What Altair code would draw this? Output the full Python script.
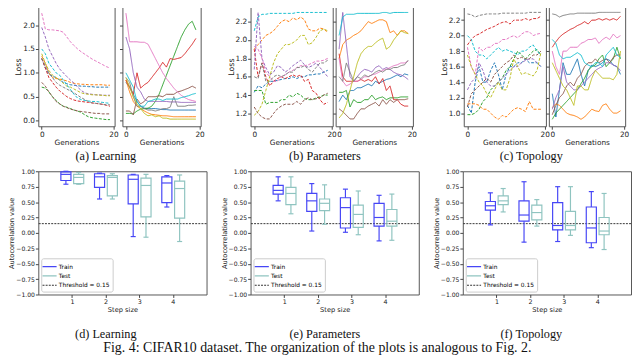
import altair as alt
import pandas as pd

SERIES = ["blue", "orange", "green", "red", "purple", "brown", "pink", "gray", "olive", "cyan"]
TAB10 = ["#1f77b4", "#ff7f0e", "#2ca02c", "#d62728", "#9467bd",
         "#8c564b", "#e377c2", "#7f7f7f", "#bcbd22", "#17becf"]
GENS = list(range(20))

# ---------- (a) Learning ----------
A_L = {
    "blue":   [1.30,1.10,0.97,0.93,0.90,0.85,0.80,0.77,0.75,0.74,0.73,0.72,0.72,0.71,0.71,0.70,0.70,0.70,0.70,0.70],
    "orange": [1.35,1.20,1.00,0.90,0.88,0.87,0.85,0.83,0.80,0.78,0.77,0.76,0.76,0.75,0.75,0.75,0.75,0.75,0.74,0.74],
    "green":  [0.70,0.68,0.60,0.50,0.42,0.35,0.30,0.28,0.25,0.22,0.20,0.17,0.12,0.08,0.06,0.05,0.04,0.03,0.02,0.02],
    "red":    [1.30,1.10,0.90,0.80,0.70,0.62,0.56,0.50,0.46,0.43,0.41,0.40,0.39,0.38,0.37,0.36,0.35,0.34,0.32,0.30],
    "purple": [1.95,1.75,1.50,1.35,1.20,1.08,1.00,0.92,0.85,0.78,0.70,0.63,0.58,0.56,0.55,0.54,0.54,0.53,0.53,0.53],
    "brown":  [0.80,0.72,0.60,0.50,0.40,0.35,0.30,0.27,0.24,0.22,0.20,0.19,0.18,0.17,0.16,0.15,0.15,0.14,0.14,0.14],
    "pink":   [2.25,1.92,1.90,1.90,1.89,1.88,1.85,1.75,1.65,1.57,1.50,1.44,1.39,1.34,1.29,1.25,1.21,1.17,1.13,1.10],
    "gray":   [1.30,1.15,1.00,0.90,0.80,0.74,0.70,0.66,0.62,0.58,0.53,0.48,0.44,0.40,0.37,0.36,0.35,0.34,0.33,0.33],
    "olive":  [1.40,1.20,1.05,0.95,0.90,0.85,0.78,0.72,0.70,0.66,0.62,0.58,0.56,0.55,0.54,0.54,0.53,0.53,0.52,0.52],
    "cyan":   [1.50,1.40,1.20,1.10,1.00,0.95,0.85,0.75,0.65,0.55,0.47,0.44,0.42,0.41,0.40,0.40,0.39,0.38,0.37,0.36],
}
A_R = {
    "blue":   [0.80,0.70,0.55,0.40,0.30,0.26,0.25,0.25,0.25,0.24,0.23,0.23,0.22,0.22,0.22,0.22,0.22,0.22,0.22,0.22],
    "orange": [0.85,0.60,0.40,0.30,0.25,0.20,0.16,0.13,0.12,0.11,0.10,0.10,0.09,0.08,0.08,0.08,0.08,0.08,0.08,0.08],
    "green":  [0.15,0.15,0.14,0.20,0.24,0.25,0.26,0.30,0.40,0.55,0.75,0.95,1.15,1.35,1.55,1.75,1.90,2.02,2.08,1.90],
    "red":    [0.85,0.70,0.55,1.00,0.68,0.75,0.80,0.90,1.00,1.10,1.22,1.12,1.30,1.28,1.30,1.32,1.40,1.50,1.60,1.72],
    "purple": [1.75,1.50,1.00,0.70,0.60,0.45,0.40,0.40,0.40,0.40,0.40,0.40,0.39,0.39,0.39,0.38,0.38,0.38,0.38,0.38],
    "brown":  [0.20,0.20,0.12,0.45,0.35,0.40,0.50,0.50,0.50,0.52,0.50,0.55,0.55,0.55,0.60,0.62,0.65,0.68,0.72,0.68],
    "pink":   [2.25,1.65,1.65,1.65,1.64,1.64,1.60,1.45,1.30,1.15,1.00,0.88,0.78,0.68,0.60,0.53,0.48,0.44,0.42,0.40],
    "gray":   [0.90,0.80,0.50,0.30,0.30,0.25,0.22,0.22,0.20,0.22,0.25,0.25,0.28,0.50,0.30,0.30,0.30,0.32,0.32,0.33],
    "olive":  [0.90,0.70,0.50,0.35,0.25,0.15,0.10,0.12,0.08,0.10,0.05,0.05,0.03,0.03,0.03,0.03,0.03,0.03,0.03,0.03],
    "cyan":   [1.00,0.85,0.70,0.40,0.30,0.30,0.40,0.42,0.45,0.45,0.42,0.45,0.45,0.45,0.45,0.48,0.50,0.52,0.55,0.57],
}

# ---------- (b) Parameters ----------
B_L = {
    "cyan":   [2.10,2.25,2.28,2.28,2.29,2.29,2.29,2.29,2.29,2.29,2.29,2.30,2.30,2.30,2.30,2.30,2.30,2.30,2.30,2.30],
    "orange": [1.90,1.95,2.00,2.05,2.07,2.10,2.15,2.20,2.22,2.20,2.24,2.22,2.25,2.22,2.12,2.10,2.10,2.13,2.12,2.08],
    "olive":  [1.18,1.22,1.30,1.45,1.60,1.75,1.85,1.90,1.95,1.95,1.97,2.00,2.05,2.05,1.95,1.97,2.03,2.10,2.12,2.10],
    "purple": [1.68,2.30,1.80,1.70,1.62,1.65,1.72,1.70,1.65,1.68,1.72,1.75,1.78,1.73,1.70,1.72,1.75,1.70,1.65,1.60],
    "pink":   [1.93,1.90,1.80,1.65,1.60,1.55,1.55,1.60,1.62,1.65,1.67,1.70,1.72,1.72,1.73,1.75,1.77,1.77,1.78,1.80],
    "gray":   [1.60,1.58,1.75,1.55,1.55,1.60,1.62,1.60,1.62,1.65,1.65,1.70,1.70,1.72,1.68,1.65,1.70,1.75,1.75,1.78],
    "blue":   [1.43,1.50,1.48,1.52,1.55,1.55,1.56,1.57,1.58,1.58,1.60,1.58,1.60,1.60,1.62,1.62,1.63,1.63,1.65,1.67],
    "red":    [1.90,1.60,1.75,1.60,1.50,1.55,1.58,1.60,1.58,1.60,1.62,1.60,1.62,1.55,1.57,1.45,1.42,1.35,1.30,1.32],
    "green":  [1.45,1.45,1.45,1.30,1.32,1.32,1.32,1.35,1.35,1.40,1.38,1.42,1.40,1.36,1.35,1.35,1.37,1.38,1.40,1.40],
    "brown":  [1.27,1.20,1.16,1.14,1.14,1.20,1.25,1.28,1.30,1.30,1.30,1.33,1.30,1.35,1.37,1.35,1.36,1.37,1.40,1.42],
}
B_R = {
    "cyan":   [2.05,2.25,2.28,2.28,2.28,2.29,2.29,2.29,2.29,2.29,2.29,2.29,2.30,2.30,2.29,2.30,2.30,2.30,2.30,2.30],
    "orange": [1.80,1.95,2.00,2.02,2.05,2.07,2.10,2.15,2.20,2.18,2.20,2.22,2.22,2.20,2.08,2.10,2.05,2.10,2.10,2.07],
    "olive":  [1.15,1.20,1.30,1.45,1.60,1.75,1.85,1.90,1.93,1.93,1.97,2.00,2.02,1.90,1.93,2.00,2.05,2.10,2.08,2.07],
    "purple": [1.90,2.30,1.95,1.60,1.55,1.60,1.65,1.68,1.67,1.65,1.70,1.72,1.68,1.70,1.68,1.65,1.63,1.62,1.60,1.57],
    "pink":   [1.80,1.55,1.50,1.52,1.55,1.55,1.57,1.60,1.60,1.62,1.63,1.65,1.67,1.68,1.70,1.72,1.73,1.75,1.75,1.77],
    "gray":   [1.60,1.55,1.75,1.65,1.55,1.60,1.58,1.62,1.60,1.62,1.65,1.67,1.65,1.68,1.68,1.70,1.70,1.72,1.73,1.78],
    "blue":   [1.33,1.40,1.35,1.45,1.45,1.48,1.48,1.50,1.52,1.50,1.55,1.53,1.55,1.57,1.58,1.60,1.62,1.60,1.63,1.62],
    "red":    [1.85,1.60,1.55,1.55,1.55,1.55,1.57,1.55,1.57,1.55,1.60,1.52,1.58,1.45,1.50,1.35,1.35,1.30,1.28,1.28],
    "green":  [1.43,1.43,1.45,1.27,1.35,1.32,1.32,1.35,1.35,1.40,1.35,1.37,1.38,1.35,1.37,1.37,1.37,1.38,1.38,1.38],
    "brown":  [1.25,1.22,1.18,1.14,1.14,1.20,1.25,1.25,1.28,1.30,1.32,1.28,1.35,1.30,1.35,1.32,1.35,1.35,1.35,1.36],
}

# ---------- (c) Topology ----------
C_L = {
    "gray":   [2.28,2.27,2.24,2.26,2.27,2.28,2.28,2.28,2.28,2.29,2.29,2.29,2.29,2.29,2.29,2.29,2.30,2.30,2.30,2.30],
    "red":    [1.88,1.95,2.00,2.02,2.05,2.08,2.10,2.12,2.15,2.17,2.18,2.15,2.20,2.20,2.20,2.22,2.20,2.22,2.22,2.25],
    "pink":   [1.85,1.60,1.50,1.85,1.80,1.85,1.85,1.90,1.90,1.95,1.95,1.98,2.00,1.97,2.02,2.05,2.05,2.00,2.02,2.03],
    "cyan":   [2.00,1.95,1.80,1.75,1.75,1.70,1.75,1.80,1.85,1.80,1.82,1.80,1.78,1.75,1.80,1.80,1.85,1.88,1.80,1.75],
    "olive":  [1.75,1.60,1.50,1.40,1.35,1.25,1.20,1.30,1.40,1.30,1.30,1.45,1.70,1.60,1.50,1.52,1.50,1.48,1.55,1.78],
    "blue":   [1.10,1.00,1.40,1.60,1.40,1.40,1.55,1.65,1.50,1.30,1.50,1.60,1.60,1.65,1.65,1.70,1.65,1.65,1.65,1.60],
    "purple": [1.30,1.40,1.45,1.65,1.55,1.40,1.35,1.35,1.40,1.45,1.50,1.55,1.60,1.60,1.65,1.68,1.70,1.70,1.65,1.60],
    "brown":  [1.08,1.25,1.30,1.35,1.40,1.45,1.40,1.50,1.55,1.60,1.65,1.68,1.75,1.70,1.72,1.70,1.70,1.75,1.75,1.80],
    "green":  [0.98,0.98,1.00,1.05,1.15,1.20,1.30,1.35,1.40,1.45,1.55,1.60,1.70,1.80,1.75,1.70,1.75,1.80,1.82,1.75],
    "orange": [1.12,1.12,1.12,1.10,1.05,1.05,1.00,0.95,0.92,0.97,0.95,1.00,1.05,1.07,1.05,1.02,1.15,1.05,1.05,1.05],
}
C_R = {
    "gray":   [2.28,2.27,2.24,2.26,2.27,2.28,2.28,2.29,2.29,2.29,2.29,2.29,2.29,2.30,2.30,2.30,2.30,2.30,2.30,2.30],
    "red":    [1.85,1.92,1.98,2.02,2.05,2.08,2.10,2.13,2.15,2.18,2.15,2.20,2.20,2.22,2.20,2.22,2.20,2.22,2.20,2.25],
    "pink":   [1.80,1.60,1.50,1.80,1.80,1.85,1.85,1.85,1.90,1.92,1.95,1.95,1.97,1.90,1.95,1.98,1.95,2.02,1.97,2.00],
    "cyan":   [1.95,1.90,1.75,1.70,1.72,1.72,1.75,1.78,1.75,1.65,1.62,1.60,1.65,1.65,1.60,1.75,1.80,1.85,1.75,1.72],
    "olive":  [1.65,1.55,1.45,1.35,1.30,1.20,1.10,1.35,1.35,1.30,1.30,1.45,1.55,1.50,1.45,1.45,1.45,1.43,1.50,1.80],
    "blue":   [1.25,0.95,1.30,1.65,1.50,1.50,1.60,1.70,1.50,1.35,1.55,1.62,1.60,1.62,1.65,1.70,1.68,1.62,1.60,1.50],
    "purple": [1.05,1.20,1.30,1.60,1.40,1.35,1.30,1.30,1.35,1.40,1.45,1.50,1.55,1.58,1.60,1.65,1.65,1.62,1.60,1.55],
    "brown":  [0.98,1.10,1.20,1.25,1.35,1.40,1.35,1.45,1.50,1.60,1.65,1.65,1.70,1.65,1.68,1.70,1.65,1.72,1.75,1.75],
    "green":  [0.92,1.00,1.05,1.10,1.15,1.20,1.25,1.30,1.38,1.45,1.55,1.60,1.62,1.70,1.75,1.60,1.65,1.70,1.85,1.70],
    "orange": [1.07,1.12,1.10,1.05,1.00,0.98,0.97,0.95,0.92,0.95,1.00,1.05,1.03,1.02,1.10,1.12,1.05,1.00,1.00,1.03],
}

# ---------- box plots: [min, q1, median, q3, max] for step 1..4 ----------
STEPS = [1, 2, 3, 4]
D_TRAIN = [[0.79,0.85,0.95,0.99,1.00],[0.55,0.74,0.91,0.96,0.97],[-0.06,0.47,0.87,0.94,0.95],[0.42,0.49,0.81,0.91,0.93]]
D_TEST  = [[0.79,0.80,0.90,0.95,0.98],[0.55,0.60,0.90,0.93,0.96],[-0.07,0.26,0.77,0.89,0.95],[-0.14,0.24,0.72,0.84,0.94]]
E_TRAIN = [[0.52,0.63,0.69,0.77,0.91],[0.03,0.35,0.52,0.64,0.80],[0.01,0.08,0.41,0.57,0.71],[-0.13,0.11,0.25,0.48,0.61]]
E_TEST  = [[0.31,0.46,0.64,0.74,0.91],[0.14,0.36,0.48,0.55,0.78],[-0.03,0.09,0.30,0.45,0.68],[-0.12,0.11,0.19,0.38,0.63]]
F_TRAIN = [[0.13,0.37,0.44,0.51,0.65],[-0.15,0.19,0.29,0.52,0.83],[-0.14,0.05,0.12,0.49,0.75],[-0.24,-0.16,0.08,0.42,0.67]]
F_TEST  = [[0.34,0.46,0.52,0.60,0.72],[0.11,0.21,0.33,0.45,0.54],[-0.04,0.05,0.12,0.35,0.75],[-0.27,-0.03,0.03,0.25,0.64]]
THRESHOLD = 0.15
Y_TICKS_BOX = [-1, -0.75, -0.5, -0.25, 0, 0.25, 0.5, 0.75, 1]

LEG_NAMES = ["Train", "Test", "Threshold = 0.15"]
LEG_COLORS = ["#4646f6", "#8fc4c0", "#333333"]

AXIS_FONT = "DejaVu Sans"
CAP_FONT = "Liberation Serif"
TOP_H = 122
BOT_H = 126
BOX_W = 172


def caption(text, dx, offset):
    return alt.TitleParams(text, orient="bottom", anchor="middle", font=CAP_FONT,
                           fontSize=12.5, fontWeight="normal", color="#111", dx=dx, offset=offset)


def line_panel(vals, dashed, ydom, yticks, show_y, width, title=None, tdx=0):
    rows = []
    for name in SERIES:
        for g, v in zip(GENS, vals[name]):
            rows.append({"gen": g, "loss": v, "series": name})
    df = pd.DataFrame(rows)
    if show_y:
        yaxis = alt.Axis(values=yticks, format=".1f", title="Loss", grid=False, domain=False,
                         tickSize=3, labelFontSize=7.5, titleFontSize=8, titlePadding=0,
                         labelPadding=1, titleFontWeight="normal", labelOverlap=False)
    else:
        yaxis = alt.Axis(values=yticks, labels=False, title=None, grid=False, domain=False,
                         tickSize=3)
    ch = alt.Chart(df).mark_line(strokeWidth=1, clip=True,
                                 strokeDash=[3, 1.6] if dashed else [1, 0]).encode(
        x=alt.X("gen:Q", scale=alt.Scale(domain=[-0.95, 20.3], nice=False, zero=False),
                axis=alt.Axis(values=[0, 20], title="Generations", grid=False, domain=False,
                              tickSize=3, labelFontSize=7.5, titleFontSize=7.5,
                              labelPadding=1, titlePadding=1, titleFontWeight="normal",
                              labelOverlap=False)),
        y=alt.Y("loss:Q", scale=alt.Scale(domain=ydom, nice=False, zero=False), axis=yaxis),
        color=alt.Color("series:N", scale=alt.Scale(domain=SERIES, range=TAB10), legend=None),
    )
    props = dict(width=width, height=TOP_H)
    if title:
        props["title"] = caption(title, tdx, 4)
    return ch.properties(**props)


def legend_params():
    return alt.Legend(title=None, orient="bottom-left", offset=3, padding=3, fillColor="white",
                      strokeColor="#cccccc", cornerRadius=2, labelFontSize=6, labelFont=AXIS_FONT,
                      symbolType="M-1.6,0H1.6", symbolSize=81, symbolStrokeWidth=1.2, rowPadding=0.5,
                      labelOffset=4)


def box_panel(train, test, title, tdx):
    rows = []
    for k, s in enumerate(STEPS):
        for name, st, off in (("Train", train, -0.18), ("Test", test, 0.2)):
            mn, q1, md, q3, mx = st[k]
            c = s + off
            rows.append(dict(series=name, c=c, l=c - 0.15, r=c + 0.15, cl=c - 0.075, cr=c + 0.075,
                             mn=mn, q1=q1, md=md, q3=q3, mx=mx))
    df = pd.DataFrame(rows)
    cscale = alt.Scale(domain=LEG_NAMES, range=LEG_COLORS)
    dscale = alt.Scale(domain=LEG_NAMES, range=[[1, 0], [1, 0], [2, 1.2]])
    xsc = alt.Scale(domain=[0, 5], nice=False, zero=False)
    ysc = alt.Scale(domain=[-1, 1], nice=False, zero=False)
    xax = alt.Axis(values=STEPS, format="d", title="Step size", grid=False, domain=False, tickSize=3,
                   labelFontSize=6.5, titleFontSize=6.8, labelPadding=1, titlePadding=2,
                   titleFontWeight="normal", labelOverlap=False, tickCount=4)
    yax = alt.Axis(values=Y_TICKS_BOX, format=".2f",
                   title="Autocorrelation value", grid=False, domain=False, tickSize=3,
                   labelFontSize=6.2, titleFontSize=6.8, labelPadding=1, titlePadding=1,
                   titleFontWeight="normal", labelOverlap=False, tickCount=9)

    def X(field):
        return alt.X(field, type="quantitative", scale=xsc, axis=xax)

    def Y(field):
        return alt.Y(field, type="quantitative", scale=ysc, axis=yax)

    col = alt.Color("series:N", scale=cscale, legend=None)
    base = alt.Chart(df)
    thr = alt.Chart(pd.DataFrame({"series": ["Threshold = 0.15"], "v": [THRESHOLD]})).mark_rule(
        strokeWidth=1).encode(
        y=Y("v"),
        color=alt.Color("series:N", scale=cscale, legend=legend_params()),
        strokeDash=alt.StrokeDash("series:N", scale=dscale, legend=legend_params()),
    )
    wlo = base.mark_rule(strokeWidth=1.2).encode(x=X("c"), y=Y("mn"), y2="q1:Q", color=col)
    whi = base.mark_rule(strokeWidth=1.2).encode(x=X("c"), y=Y("q3"), y2="mx:Q", color=col)
    cap_lo = base.mark_rule(strokeWidth=1.2).encode(x=X("cl"), x2="cr:Q", y=Y("mn"), color=col)
    cap_hi = base.mark_rule(strokeWidth=1.2).encode(x=X("cl"), x2="cr:Q", y=Y("mx"), color=col)
    box = base.mark_rect(filled=False, strokeWidth=1.2).encode(
        x=X("l"), x2="r:Q", y=Y("q1"), y2="q3:Q", color=col)
    med = base.mark_rule(strokeWidth=1.2).encode(x=X("l"), x2="r:Q", y=Y("md"), color=col)
    return alt.layer(thr, wlo, whi, cap_lo, cap_hi, box, med).properties(
        width=BOX_W, height=BOT_H, title=caption(title, tdx, 15))


def spacer(w, h):
    return alt.Chart(pd.DataFrame({"v": [0]})).mark_point(size=0, opacity=0).encode(
        x=alt.value(0), y=alt.value(h / 2)
    ).properties(width=w, height=h, view=alt.ViewBackground(stroke=None))


aL = line_panel(A_L, True, [-0.12, 2.38], [0, 0.5, 1.0, 1.5, 2.0], True, 78, "(a) Learning", 30)
aR = line_panel(A_R, False, [-0.12, 2.38], [0, 0.5, 1.0, 1.5, 2.0], False, 80)
bL = line_panel(B_L, True, [1.06, 2.36], [1.2, 1.4, 1.6, 1.8, 2.0, 2.2], True, 84, "(b) Parameters", 34)
bR = line_panel(B_R, False, [1.06, 2.36], [1.2, 1.4, 1.6, 1.8, 2.0, 2.2], False, 79)
cL = line_panel(C_L, True, [0.83, 2.37], [1.0, 1.2, 1.4, 1.6, 1.8, 2.0, 2.2], True, 84, "(c) Topology", 27)
cR = line_panel(C_R, False, [0.83, 2.37], [1.0, 1.2, 1.4, 1.6, 1.8, 2.0, 2.2], False, 78)

d = box_panel(D_TRAIN, D_TEST, "(d) Learning", -17)
e = box_panel(E_TRAIN, E_TEST, "(e) Parameters", -10)
f = box_panel(F_TRAIN, F_TEST, "(f) Topology", -16)

top = alt.hconcat(aL, spacer(8, TOP_H), aR, spacer(51, TOP_H), bL, spacer(3, TOP_H), bR,
                  spacer(52, TOP_H), cL, spacer(3, TOP_H), cR, spacing=0, bounds="flush")
bottom = alt.hconcat(d, spacer(45, BOT_H), e, spacer(45, BOT_H), f, spacing=0, bounds="flush"
                     ).resolve_scale(color="independent", strokeDash="independent"
                     ).resolve_legend(color="independent", strokeDash="independent")

chart = alt.vconcat(top, bottom, spacing=5).resolve_scale(
    color="independent", strokeDash="independent"
).resolve_legend(color="independent", strokeDash="independent").properties(
    padding={"top": -6, "left": 0, "right": 0, "bottom": 0},
    title=alt.TitleParams("Fig. 4: CIFAR10 dataset. The organization of the plots is analogous to Fig. 2.",
                          orient="bottom", anchor="middle", font=CAP_FONT, fontSize=14.2,
                          fontWeight="normal", color="#111", offset=0, dx=-3),
).configure_view(stroke="#555555", strokeWidth=1).configure_axis(
    labelFont=AXIS_FONT, titleFont=AXIS_FONT, labelColor="#222", titleColor="#222",
    tickColor="#444")

chart.save("out.html", embed_options={"renderer": "svg", "actions": False})
